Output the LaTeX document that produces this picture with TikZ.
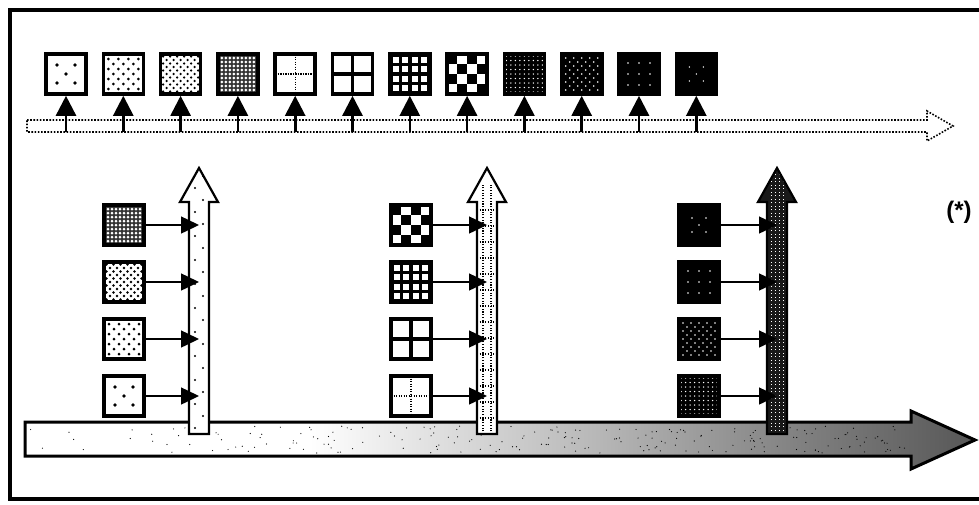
\documentclass[tikz,border=0pt]{standalone}
\usepackage{fontspec}
\setsansfont{Liberation Sans}
\usetikzlibrary{arrows.meta,positioning}

% grey ramp of the long time axis
\pgfdeclarehorizontalshading{fade}{100bp}{color(0bp)=(white); color(25bp)=(white); color(40bp)=(white);
  color(55bp)=(black!28); color(66bp)=(black!50); color(75bp)=(black!66); color(100bp)=(black!66)}

% field of dots inside a path picture: step, radius, colour, half count, offset
\newcommand{\dotfield}[5]{%
  \foreach \i in {-#4,...,#4}
    \foreach \j in {-#4,...,#4}
      \fill[#3] (path picture bounding box.center) ++({(\i+#5)*#1},{(\j+#5)*#1}) circle (#2);}

\tikzset{
  stemarrow/.pic={\path[pic actions] (-10,0) -- (-10,-232) -- (-19,-232) -- (0,-266) -- (19,-232) -- (10,-232) -- (10,0) -- cycle;}
}

\begin{document}
\begin{tikzpicture}[x=1pt, y=-1pt,
  tile/.style={draw, line width=3.6pt, minimum size=40pt, inner sep=0pt, fill=white},
  look/.style={#1},
  dice/.style={path picture={\foreach \px/\py in {-9/-9,9/-9,0/0,-9/9,9/9}
      \fill[black] (path picture bounding box.center) ++(\px,\py) circle (1.8pt);}},
  dotsB/.style={path picture={\dotfield{10}{1.5pt}{black}{2}{0}\dotfield{10}{1.5pt}{black}{2}{0.5}}},
  dotsC/.style={path picture={\dotfield{7}{1.3pt}{black}{3}{0}\dotfield{7}{1.3pt}{black}{3}{0.5}}},
  dotsD/.style={fill=black!80, path picture={\dotfield{4}{1.5pt}{white}{5}{0}}},
  crossdot/.style={path picture={\draw[black, line width=1.3pt, dash pattern=on 1.3pt off 1.2pt]
      (path picture bounding box.north) -- (path picture bounding box.south)
      (path picture bounding box.west) -- (path picture bounding box.east);}},
  window/.style={path picture={\draw[black, line width=3.2pt]
      (path picture bounding box.north) -- (path picture bounding box.south)
      (path picture bounding box.west) -- (path picture bounding box.east);}},
  gridB/.style={fill=black, path picture={\foreach \i in {-1.5,-0.5,0.5,1.5} \foreach \j in {-1.5,-0.5,0.5,1.5}
      \fill[white] (path picture bounding box.center) ++(\i*9.5-3,\j*9.5-3) rectangle ++(6,6);}},
  checker/.style={path picture={\foreach \i/\j in {0/0,0/2,1/1,1/3,2/0,2/2,3/1,3/3}
      \fill[black] (path picture bounding box.north west) ++(\i*10,\j*10) rectangle ++(10,10);}},
  darkA/.style={fill=black, path picture={\dotfield{4.5}{0.75pt}{white}{4}{0}}},
  darkB/.style={fill=black, path picture={\dotfield{8}{0.8pt}{white}{2}{0}\dotfield{8}{0.8pt}{white}{2}{0.5}}},
  darkC/.style={fill=black, path picture={\dotfield{11}{0.8pt}{white}{2}{0}}},
  darkD/.style={fill=black, path picture={\dotfield{14}{0.8pt}{white}{1}{0.5}\dotfield{14}{0.8pt}{white}{0}{0}}},
  uplink/.style={line width=2.6pt, -{Triangle[length=20pt,width=20pt]}},
  link/.style={line width=1.5pt, -{Triangle[length=18pt,width=17pt]}},
  stemline/.style={draw, line width=2.2pt},
  axisline/.style={line width=1.6pt, dash pattern=on 1.6pt off 1.6pt, fill=white}
]
\useasboundingbox (0,0) rectangle (979,504);
\draw[line width=3.5pt] (979,10) -- (10,10) -- (10,499) -- (979,499);

% long time axis
\shadedraw[line width=3pt, shading=fade] (25,422) -- (911,422) -- (911,411) -- (975,440) -- (911,469) -- (911,456) -- (25,456) -- cycle;
\pgfmathsetseed{7}
\foreach \n in {1,...,220}
  \fill ({28+880*rnd^0.6},{426+27*rnd}) circle (0.6pt);

% dotted axis of the single steps
\draw[axisline] (27,120) -- (927,120) -- (927,111) -- (953,126) -- (927,141) -- (927,132) -- (27,132) -- cycle;
\coordinate (axisbot) at (27,132);

\foreach \k/\p in {1/dice,2/dotsB,3/dotsC,4/dotsD,5/crossdot,6/window,7/gridB,8/checker,9/darkA,10/darkB,11/darkC,12/darkD} {
  \node[tile, look/.expanded=\p] (t\k) at ({66+57.3*(\k-1)},74) {};
  \draw[uplink] (t\k |- axisbot) -- (t\k.south);
}

% three stages
\pic[stemline, fill=white, path picture={\foreach \j in {0,...,21}
    \fill[black] (path picture bounding box.south) ++({mod(\j,2)*8-4},{-\j*12-6}) circle (1.2pt);}] at (199,434) {stemarrow};
\pic[stemline, fill=white, path picture={
    \foreach \dx in {-4,4} \draw[black, line width=1.1pt, dash pattern=on 1.1pt off 1.6pt] (path picture bounding box.south) ++(\dx,0) -- ++(0,-250);
    \foreach \j in {1,...,14} \draw[black, line width=1.1pt, dash pattern=on 1.1pt off 1.6pt] (path picture bounding box.south) ++(-10,-\j*16) -- ++(20,0);}] at (487,434) {stemarrow};
\pic[stemline, fill=black!90, path picture={
    \foreach \dx in {-6,-2,2,6} \draw[white, line width=0.9pt, dash pattern=on 0.9pt off 2.6pt] (path picture bounding box.south) ++(\dx,0) -- ++(0,-266);}] at (777,434) {stemarrow};
\coordinate (stemA) at (199,300);
\coordinate (stemB) at (487,300);
\coordinate (stemC) at (777,300);

\foreach \k/\p in {1/dice,2/dotsB,3/dotsC,4/dotsD} {
  \node[tile, look/.expanded=\p] (a\k) at (124,{453-57*\k}) {};
  \draw[link] (a\k.east) -- (a\k -| stemA);
}
\foreach \k/\p in {1/crossdot,2/window,3/gridB,4/checker} {
  \node[tile, look/.expanded=\p] (b\k) at (411,{453-57*\k}) {};
  \draw[link] (b\k.east) -- (b\k -| stemB);
}
\foreach \k/\p in {1/darkA,2/darkB,3/darkC,4/darkD} {
  \node[tile, look/.expanded=\p] (c\k) at (699,{453-57*\k}) {};
  \draw[link] (c\k.east) -- (c\k -| stemC);
}

\node[font=\sffamily\bfseries\fontsize{24}{28}\selectfont] (note) at (959,212) {(*)};
\end{tikzpicture}
\end{document}
